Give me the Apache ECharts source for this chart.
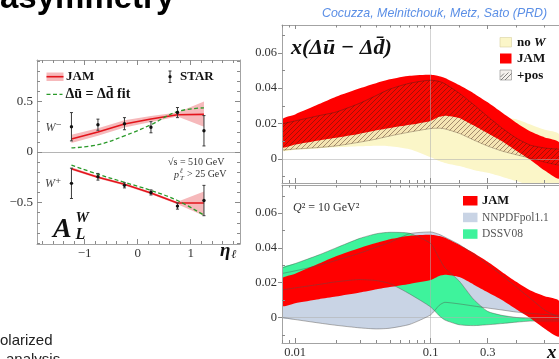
<!DOCTYPE html>
<html><head><meta charset="utf-8">
<script src="https://cdn.jsdelivr.net/npm/echarts@6/dist/echarts.min.js"></script>
<style>html,body{margin:0;padding:0;background:#fff;overflow:hidden}#c{width:559px;height:359px}</style>
</head><body><div id="c"></div>
<script>
// ================= DATA : left panel (A_L^W vs eta_l) =================
const ETA = [-1.25, -0.75, -0.25, 0.25, 0.75, 1.25];
const STAR_WM = [0.25, 0.27, 0.28, 0.245, 0.39, 0.21];
const STAR_WM_ERR = [0.14, 0.055, 0.06, 0.055, 0.05, 0.15];
const STAR_WP = [-0.31, -0.245, -0.33, -0.40, -0.535, -0.48];
const STAR_WP_ERR = [0.15, 0.033, 0.025, 0.025, 0.03, 0.15];
const JAM_WM = [0.128, 0.197, 0.277, 0.326, 0.368, 0.372];
const JAM_WM_LO = [0.09, 0.16, 0.242, 0.296, 0.35, 0.25];
const JAM_WM_HI = [0.17, 0.235, 0.314, 0.357, 0.39, 0.50];
const FIT_WM = [0.04, 0.072, 0.16, 0.27, 0.40, 0.437];
const JAM_WP = [-0.165, -0.25, -0.32, -0.405, -0.505, -0.505];
const JAM_WP_LO = [-0.178, -0.262, -0.332, -0.417, -0.517, -0.63];
const JAM_WP_HI = [-0.152, -0.238, -0.308, -0.393, -0.493, -0.39];
const FIT_WP = [-0.13, -0.22, -0.30, -0.38, -0.48, -0.625];
const ETA_TICKS = [-1, 0, 1];
const ETA_TICK_LABELS = ['\u22121', '0', '1'];
const ETA_MINOR = [-1.8, -1.6, -1.4, -1.2, -0.8, -0.6, -0.4, -0.2, 0.2, 0.4, 0.6, 0.8, 1.2, 1.4, 1.6, 1.8];
const AL_TICKS = [-0.5, 0, 0.5];
const AL_TICK_LABELS = ['\u22120.5', '0', '0.5'];
const AL_MINOR = [-0.9, -0.8, -0.7, -0.6, -0.4, -0.3, -0.2, -0.1, 0.1, 0.2, 0.3, 0.4, 0.6, 0.7, 0.8, 0.9];

// ================= DATA : right panels, x(Δū − Δd̄) vs x =================
const XS      = [0.008, 0.01, 0.015, 0.02, 0.03, 0.04, 0.05, 0.07, 0.1, 0.13, 0.15, 0.2, 0.25, 0.3, 0.35, 0.4, 0.45, 0.5, 0.55];
const JAM_HI  = [0.0224, 0.0252, 0.0310, 0.0352, 0.0400, 0.0430, 0.0450, 0.0470, 0.0476, 0.0468, 0.0458, 0.0418, 0.0372, 0.0320, 0.0262, 0.0205, 0.0155, 0.0122, 0.0095];
const JAM_LO  = [0.0066, 0.0082, 0.0105, 0.0120, 0.0143, 0.0162, 0.0175, 0.0193, 0.0215, 0.0238, 0.0245, 0.0232, 0.0190, 0.0145, 0.0100, 0.0047, -0.0005, -0.0065, -0.0110];
const NOW_HI  = [0.0150, 0.0160, 0.0180, 0.0200, 0.0230, 0.0250, 0.0270, 0.0290, 0.0300, 0.0300, 0.0295, 0.0280, 0.0260, 0.0245, 0.0235, 0.0225, 0.0195, 0.0165, 0.0140];
const NOW_LO  = [0.0047, 0.0052, 0.0060, 0.0066, 0.0072, 0.0075, 0.0072, 0.0055, 0.0010, -0.0012, -0.0022, -0.0040, -0.0062, -0.0078, -0.0100, -0.0125, -0.0150, -0.0170, -0.0190];
const POS_HI  = [0.0198, 0.0215, 0.0245, 0.0265, 0.0315, 0.0360, 0.0395, 0.0428, 0.0445, 0.0438, 0.0425, 0.0372, 0.0308, 0.0240, 0.0175, 0.0118, 0.0078, 0.0062, 0.0055];
const POS_LO  = [0.0051, 0.0056, 0.0065, 0.0074, 0.0095, 0.0113, 0.0130, 0.0152, 0.0172, 0.0174, 0.0170, 0.0145, 0.0108, 0.0073, 0.0045, 0.0024, 0.0004, -0.0018, -0.0035];
const NNPDF_HI = [0.0253, 0.0268, 0.0300, 0.0328, 0.0370, 0.0405, 0.0432, 0.0482, 0.0492, 0.0478, 0.0462, 0.0420, 0.0365, 0.0305, 0.0242, 0.0175, 0.0109, 0.0042, 0.0000];
const NNPDF_LO = [0.0000, -0.0012, -0.0032, -0.0045, -0.0060, -0.0066, -0.0062, -0.0040, 0.0015, 0.0070, 0.0087, 0.0078, 0.0066, 0.0054, 0.0043, 0.0031, 0.0023, 0.0017, 0.0012];
const DSSV_HI = [0.0285, 0.0310, 0.0360, 0.0400, 0.0455, 0.0482, 0.0490, 0.0484, 0.0425, 0.0340, 0.0285, 0.0210, 0.0105, 0.0035, 0.0012, 0.0000, -0.0006, -0.0010, -0.0012];
const DSSV_LO = [0.0158, 0.0170, 0.0190, 0.0205, 0.0218, 0.0212, 0.0195, 0.0135, 0.0060, 0.0010, -0.0015, -0.0042, -0.0047, -0.0042, -0.0035, -0.0027, -0.0021, -0.0020, -0.0020];
const X_TICKS = [0.01, 0.1, 0.3];
const X_TICK_LABELS = ['0.01', '0.1', '0.3'];
const X_MINOR = [0.008, 0.009, 0.02, 0.03, 0.04, 0.05, 0.06, 0.07, 0.08, 0.09, 0.2, 0.4, 0.5];
const Y_TICKS = [0, 0.02, 0.04, 0.06];
const Y_TICK_LABELS = ['0', '0.02', '0.04', '0.06'];
const Y_MINOR = [-0.01, 0.01, 0.03, 0.05, 0.07];

// ================= helpers =================
// x axis of the right panels: logarithmic below 0.1, linear above 0.1
const LIN_K = 2.104;
const tx = x => x <= 0.1 ? Math.log10(x) : -1 + (x - 0.1) * LIN_K;
const TMIN = tx(0.008), TMAX = tx(0.55);
const TXS = XS.map(tx);

const SERIF = '"Liberation Serif", "DejaVu Serif", serif';
const SANS = '"Liberation Sans", Arial, sans-serif';
const FR = '#a3a3a3', TK = '#8a8a8a';

function lookup(vals, labels) {
  return v => { for (let i = 0; i < vals.length; i++) if (Math.abs(vals[i] - v) < 1e-7) return labels[i]; return ''; };
}
function mkAxis(gi, pos, min, max, o) {
  return {
    type: 'value', gridIndex: gi, position: pos, min: min, max: max, z: 50, silent: true,
    axisLine: { show: !!o.line, onZero: false, lineStyle: { color: FR, width: 1 } },
    axisTick: { show: true, inside: o.inside !== false, length: o.len, customValues: o.ticks, lineStyle: { color: TK, width: 1 } },
    axisLabel: o.labels ? { show: true, customValues: o.labels.vals, formatter: o.labels.fmt, fontFamily: SERIF,
      fontSize: o.labels.size, color: '#333', margin: o.labels.margin } : { show: false },
    splitLine: { show: false }, splitArea: { show: false }, minorTick: { show: false }
  };
}
// filled band between lo and hi, drawn as one polygon through the axes' scales
function band(xi, yi, xs, lo, hi, fill, smooth, z) {
  return {
    type: 'custom', xAxisIndex: xi, yAxisIndex: yi, z: z, silent: true, clip: true,
    encode: { x: 0, y: [1, 2] },
    data: xs.map((x, i) => [x, lo[i], hi[i]]),
    renderItem: function (params, api) {
      if (params.dataIndexInside !== 0) return null;
      const n = params.dataInsideLength, pts = [];
      for (let i = 0; i < n; i++) pts.push(api.coord([api.value(0, i), api.value(2, i)]));
      for (let i = n - 1; i >= 0; i--) pts.push(api.coord([api.value(0, i), api.value(1, i)]));
      return { type: 'polygon', shape: { points: pts, smooth: smooth }, style: { fill: fill, stroke: null } };
    }
  };
}
function curve(xi, yi, xs, ys, style, smooth, z, extra) {
  return Object.assign({ type: 'line', xAxisIndex: xi, yAxisIndex: yi, data: xs.map((x, i) => [x, ys[i]]),
    symbol: 'none', smooth: smooth, lineStyle: style, z: z, silent: true }, extra || {});
}
function errRender(params, api) {
  const x = api.value(0), y = api.value(1), e = api.value(2);
  const a = api.coord([x, y + e]), b = api.coord([x, y - e]), c = api.coord([x, y]);
  const st = { stroke: '#3a3a3a', lineWidth: 1 };
  return { type: 'group', children: [
    { type: 'line', shape: { x1: a[0], y1: a[1], x2: b[0], y2: b[1] }, style: st },
    { type: 'line', shape: { x1: a[0] - 1.5, y1: a[1], x2: a[0] + 1.5, y2: a[1] }, style: st },
    { type: 'line', shape: { x1: b[0] - 1.5, y1: b[1], x2: b[0] + 1.5, y2: b[1] }, style: st },
    { type: 'circle', shape: { cx: c[0], cy: c[1], r: 1.7 }, style: { fill: '#111' } }
  ] };
}
function hatchCanvas() {
  const c = document.createElement('canvas'); c.width = 5; c.height = 5;
  const g = c.getContext('2d');
  g.fillStyle = 'rgba(200,80,0,0.10)'; g.fillRect(0, 0, 5, 5);
  g.strokeStyle = 'rgba(55,25,15,0.55)'; g.lineWidth = 0.8;
  g.beginPath(); g.moveTo(0, 5); g.lineTo(5, 0); g.moveTo(-1, 1); g.lineTo(1, -1); g.moveTo(4, 6); g.lineTo(6, 4); g.stroke();
  return c;
}
const HATCH = { image: hatchCanvas(), repeat: 'repeat' };

const PINK = '#f6b9bb', RED = '#e3141b', GREEN = '#2a9a2a';
const YEL = '#fbf6c8', JRED = '#ff0000', NBLUE = '#c9d4e5', DGREEN = '#3ef39c';
const EDGE = { color: 'rgba(85,80,75,0.55)', width: 0.8 };
const GRIDLINE = { color: 'rgba(175,175,175,0.55)', width: 1, type: 'solid' };
const SM = 0.2;

// ================= axes =================
const xAxis = [
  mkAxis(0, 'bottom', -1.9, 1.93, { line: 1, len: 5, ticks: ETA_TICKS, labels: { vals: ETA_TICKS, fmt: lookup(ETA_TICKS, ETA_TICK_LABELS), size: 13, margin: 3 } }), // 0
  mkAxis(0, 'bottom', -1.9, 1.93, { len: 3, ticks: ETA_MINOR }),
  mkAxis(0, 'top', -1.9, 1.93, { line: 1, len: 5, ticks: ETA_TICKS }),
  mkAxis(0, 'top', -1.9, 1.93, { len: 3, ticks: ETA_MINOR }),
  mkAxis(1, 'bottom', TMIN, TMAX, { line: 1, len: 5, ticks: X_TICKS.map(tx) }), // 4
  mkAxis(1, 'bottom', TMIN, TMAX, { len: 3, ticks: X_MINOR.map(tx) }),
  mkAxis(1, 'top', TMIN, TMAX, { line: 1, len: 4, ticks: X_TICKS.map(tx) }),
  mkAxis(1, 'top', TMIN, TMAX, { len: 2.5, ticks: X_MINOR.map(tx) }),
  mkAxis(2, 'bottom', TMIN, TMAX, { line: 1, len: 5, ticks: X_TICKS.map(tx), labels: { vals: X_TICKS.map(tx), fmt: lookup(X_TICKS.map(tx), X_TICK_LABELS), size: 12.5, margin: 3 } }), // 8
  mkAxis(2, 'bottom', TMIN, TMAX, { len: 3, ticks: X_MINOR.map(tx) }),
  mkAxis(2, 'top', TMIN, TMAX, { line: 1, len: 4, ticks: X_TICKS.map(tx) }),
  mkAxis(2, 'top', TMIN, TMAX, { len: 2.5, ticks: X_MINOR.map(tx) })
];
const yAxis = [
  mkAxis(0, 'left', -0.91, 0.91, { line: 1, len: 5, ticks: AL_TICKS, labels: { vals: AL_TICKS, fmt: lookup(AL_TICKS, AL_TICK_LABELS), size: 13, margin: 4 } }), // 0
  mkAxis(0, 'left', -0.91, 0.91, { len: 3, ticks: AL_MINOR }),
  mkAxis(0, 'right', -0.91, 0.91, { line: 1, len: 5, ticks: AL_TICKS }),
  mkAxis(0, 'right', -0.91, 0.91, { len: 3, ticks: AL_MINOR }),
  mkAxis(1, 'left', -0.01356, 0.0757, { line: 1, len: 4, inside: false, ticks: Y_TICKS, labels: { vals: Y_TICKS, fmt: lookup(Y_TICKS, Y_TICK_LABELS), size: 12.5, margin: 5 } }), // 4
  mkAxis(1, 'left', -0.01356, 0.0757, { len: 3, ticks: Y_MINOR }),
  mkAxis(2, 'left', -0.0147, 0.0762, { line: 1, len: 4, inside: false, ticks: Y_TICKS, labels: { vals: Y_TICKS, fmt: lookup(Y_TICKS, Y_TICK_LABELS), size: 12.5, margin: 5 } }), // 6
  mkAxis(2, 'left', -0.0147, 0.0762, { len: 3, ticks: Y_MINOR })
];

// ================= series =================
const series = [
  // ---- left panel
  band(0, 0, ETA, JAM_WM_LO, JAM_WM_HI, PINK, 0, 3),
  band(0, 0, ETA, JAM_WP_LO, JAM_WP_HI, PINK, 0, 3),
  curve(0, 0, ETA, JAM_WM, { color: RED, width: 1.6 }, false, 4, {
    markLine: { silent: true, symbol: 'none', label: { show: false }, lineStyle: { color: '#b5b5b5', width: 1, type: 'solid' }, data: [{ yAxis: 0 }] } }),
  curve(0, 0, ETA, JAM_WP, { color: RED, width: 1.6 }, false, 4),
  curve(0, 0, ETA, FIT_WM, { color: GREEN, width: 1.3, type: [4, 2.5] }, 0.4, 5),
  curve(0, 0, ETA, FIT_WP, { color: GREEN, width: 1.3, type: [4, 2.5] }, 0.4, 5),
  { type: 'custom', xAxisIndex: 0, yAxisIndex: 0, renderItem: errRender, z: 10, silent: true,
    data: ETA.map((e, i) => [e, STAR_WM[i], STAR_WM_ERR[i]]) },
  { type: 'custom', xAxisIndex: 0, yAxisIndex: 0, renderItem: errRender, z: 10, silent: true,
    data: ETA.map((e, i) => [e, STAR_WP[i], STAR_WP_ERR[i]]) },
  // ---- right top panel
  band(4, 4, TXS, NOW_LO, NOW_HI, YEL, SM, 2),
  band(4, 4, TXS, JAM_LO, JAM_HI, JRED, SM, 3),
  band(4, 4, TXS, POS_LO, POS_HI, HATCH, SM, 4),
  curve(4, 4, TXS, POS_HI, { color: 'rgba(60,35,25,0.6)', width: 0.7 }, SM, 5, {
    markLine: { silent: true, symbol: 'none', label: { show: false }, lineStyle: GRIDLINE, data: [{ yAxis: 0 }, { xAxis: tx(0.1) }] } }),
  curve(4, 4, TXS, POS_LO, { color: 'rgba(60,35,25,0.45)', width: 0.7 }, SM, 5),
  // ---- right bottom panel
  band(8, 6, TXS, NNPDF_LO, NNPDF_HI, NBLUE, SM, 2),
  band(8, 6, TXS, DSSV_LO, DSSV_HI, DGREEN, SM, 3),
  band(8, 6, TXS, JAM_LO, JAM_HI, JRED, SM, 4),
  curve(8, 6, TXS, NNPDF_HI, EDGE, SM, 5, {
    markLine: { silent: true, symbol: 'none', label: { show: false }, lineStyle: GRIDLINE, data: [{ yAxis: 0 }, { xAxis: tx(0.1) }] } }),
  curve(8, 6, TXS, NNPDF_LO, EDGE, SM, 5),
  curve(8, 6, TXS, DSSV_HI, EDGE, SM, 5),
  curve(8, 6, TXS, DSSV_LO, EDGE, SM, 5)
];

// ================= texts =================
function T(x, y, text, font, fill, extra) {
  return { type: 'text', x: x, y: y, z: 100, silent: true,
    style: Object.assign({ text: text, font: font, fill: fill, align: 'left', verticalAlign: 'middle' }, extra || {}) };
}
function R(x, y, w, h, fill, stroke) {
  return { type: 'rect', z: 100, silent: true, shape: { x: x, y: y, width: w, height: h }, style: { fill: fill, stroke: stroke || null, lineWidth: 0.6 } };
}
function L(x1, y1, x2, y2, stroke, w, dash) {
  return { type: 'line', z: 100, silent: true, shape: { x1: x1, y1: y1, x2: x2, y2: y2 }, style: { stroke: stroke, lineWidth: w, lineDash: dash || null } };
}
const graphic = [
  // slide text
  T(0, -1, 'asymmetry', 'bold 33px ' + SANS, '#000'),
  T(0, 341, 'olarized', '15px ' + SANS, '#222'),
  T(6, 360, 'analysis', '15px ' + SANS, '#222'),
  T(322, 13.5, 'Cocuzza, Melnitchouk, Metz, Sato (PRD)', 'italic 12.4px ' + SANS, '#5b8fe6'),
  // left legend
  R(46.5, 72.5, 17, 8.5, PINK), L(46.5, 76.7, 63.5, 76.7, RED, 1.6),
  T(66, 77, 'JAM', 'bold 13px ' + SERIF, '#111'),
  L(170, 71, 170, 82.5, '#333', 1), L(168.5, 71, 171.5, 71, '#333', 1), L(168.5, 82.5, 171.5, 82.5, '#333', 1),
  { type: 'circle', z: 100, silent: true, shape: { cx: 170, cy: 76.7, r: 1.6 }, style: { fill: '#111' } },
  T(180, 77, 'STAR', 'bold 13px ' + SERIF, '#111'),
  L(46.5, 94.3, 62.5, 94.3, GREEN, 1.3, [4, 2.5]),
  T(65.5, 94.5, '\u0394\u016B = \u0394d\u0304 fit', 'bold 14px ' + SERIF, '#111'),
  T(45.5, 128, 'W\u207B', 'italic 12px ' + SERIF, '#444'),
  T(45, 183.5, 'W\u207A', 'italic 12px ' + SERIF, '#444'),
  T(168, 162.5, '\u221As = 510 GeV', '10px ' + SERIF, '#333'),
  T(174, 175, 'p', 'italic 10px ' + SERIF, '#333'),
  T(180, 171.5, '\u2113', 'italic 7px ' + SERIF, '#333'),
  T(180, 178, 'T', 'italic 7px ' + SERIF, '#333'),
  T(187, 174.5, '> 25 GeV', '10px ' + SERIF, '#333'),
  T(53, 230, 'A', 'italic bold 28px ' + SERIF, '#111'),
  T(75.5, 218, 'W', 'italic bold 15px ' + SERIF, '#111'),
  T(75.5, 235, 'L', 'italic bold 16px ' + SERIF, '#111'),
  T(220, 251, '\u03B7', 'italic bold 19px ' + SERIF, '#111'),
  T(231.5, 254.5, '\u2113', 'italic bold 12px ' + SERIF, '#111'),
  // right top
  T(291, 48.5, 'x(\u0394\u016B \u2212 \u0394d\u0304)', 'italic bold 22px ' + SERIF, '#111'),
  R(500, 37.5, 11.5, 9.5, YEL, '#d8d2a0'),
  R(500, 53.5, 11.5, 10, JRED),
  R(500, 70, 11.5, 10, '#f4f0ec', '#888'),
  L(500.5, 77, 504, 73.5, '#555', 0.7), L(501, 80, 508.5, 72.5, '#555', 0.7), L(505, 80, 511.5, 73.5, '#555', 0.7),
  T(517, 42.5, '{a|no }{b|W}', '13px ' + SERIF, '#111', { rich: {
    a: { font: 'bold 13px ' + SERIF, fill: '#111' }, b: { font: 'italic bold 13px ' + SERIF, fill: '#111' } } }),
  T(517, 59, 'JAM', 'bold 13px ' + SERIF, '#111'),
  T(517, 76, '+pos', 'bold 13px ' + SERIF, '#111'),
  // right bottom
  T(293, 207.5, '{q|Q}{n|\u00B2 = 10 GeV\u00B2}', '12px ' + SERIF, '#333', { rich: {
    q: { font: 'italic 12px ' + SERIF, fill: '#333' }, n: { font: '12px ' + SERIF, fill: '#333' } } }),
  R(463, 196, 14.5, 9.5, JRED), R(463, 212.7, 14.5, 9.5, NBLUE), R(463, 229.3, 14.5, 9.5, DGREEN),
  T(482, 201, 'JAM', 'bold 12.5px ' + SERIF, '#111'),
  T(482, 217.8, 'NNPDFpol1.1', '11.5px ' + SERIF, '#555'),
  T(482, 234.3, 'DSSV08', '11.5px ' + SERIF, '#555'),
  T(547, 353, 'x', 'italic bold 19px ' + SERIF, '#111')
];

const chart = echarts.init(document.getElementById('c'), null, { renderer: 'canvas' });
chart.setOption({
  animation: false,
  backgroundColor: '#fff',
  grid: [
    { left: 37, top: 60, width: 203, height: 184 },
    { left: 282, top: 25, width: 288, height: 158 },
    { left: 282, top: 185, width: 288, height: 159 }
  ],
  xAxis: xAxis,
  yAxis: yAxis,
  series: series,
  graphic: graphic
});
</script></body></html>
